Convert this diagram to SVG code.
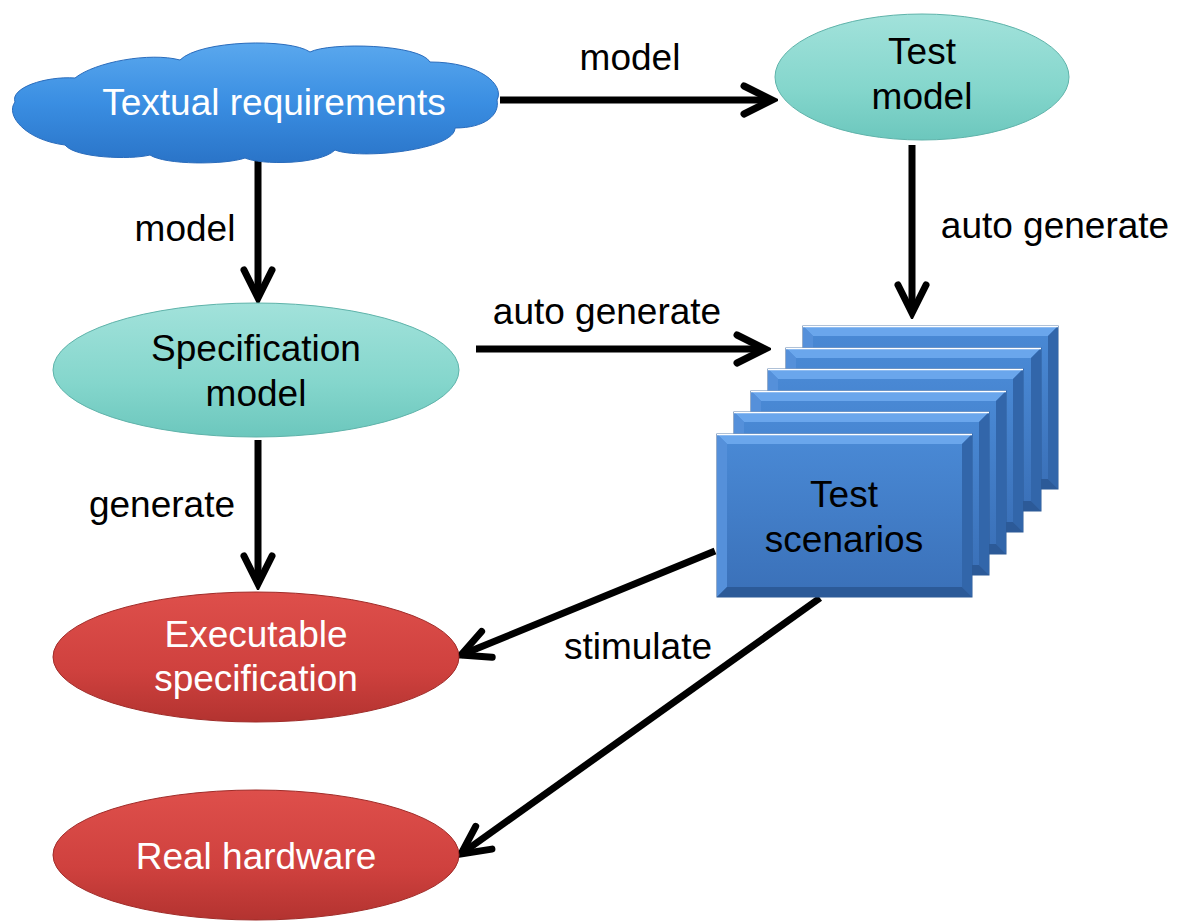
<svg xmlns="http://www.w3.org/2000/svg" width="1186" height="923" viewBox="0 0 1186 923">
<defs>
<style>
text{font-family:"Liberation Sans",Arial,sans-serif;font-size:37px;text-anchor:middle}
.lbl{fill:#000}
.wt{fill:#fff}
.bk{fill:#000}
.conn{stroke:#000;stroke-width:7;fill:none}
</style>
<linearGradient id="gCloud" x1="0" y1="0" x2="0" y2="1">
<stop offset="0" stop-color="#5aa8ee"/><stop offset="0.5" stop-color="#3a8ee2"/><stop offset="1" stop-color="#2a74c8"/>
</linearGradient>
<linearGradient id="gTeal" x1="0" y1="0" x2="0" y2="1">
<stop offset="0" stop-color="#a2e2db"/><stop offset="0.6" stop-color="#84d6cc"/><stop offset="1" stop-color="#6cc7bd"/>
</linearGradient>
<linearGradient id="gRed" x1="0" y1="0" x2="0" y2="1">
<stop offset="0" stop-color="#de4f4b"/><stop offset="0.6" stop-color="#cf413e"/><stop offset="1" stop-color="#b33330"/>
</linearGradient>
<linearGradient id="gBlue" x1="0" y1="0" x2="0" y2="1">
<stop offset="0" stop-color="#4a8ad6"/><stop offset="1" stop-color="#3a70b8"/>
</linearGradient>
<g id="card">
<rect x="0" y="0" width="255" height="163" fill="url(#gBlue)" stroke="#2c5a96" stroke-width="1"/>
<polygon points="0,0 255,0 245,10 10,10" fill="#6aa6ec"/>
<polygon points="0,0 10,10 10,153 0,163" fill="#5590da"/>
<polygon points="255,0 255,163 245,153 245,10" fill="#3266aa"/>
<polygon points="0,163 255,163 245,153 10,153" fill="#2c5a98"/>
<line x1="0" y1="0.5" x2="255" y2="0.5" stroke="#fff" stroke-width="1.5"/>
</g>
<marker id="arr" markerUnits="userSpaceOnUse" viewBox="0 0 40 40" markerWidth="40" markerHeight="40" refX="34" refY="20" orient="auto">
<path d="M6,6 L34,20 L6,34" fill="none" stroke="#000" stroke-width="7" stroke-linecap="round" stroke-linejoin="miter"/>
</marker>
</defs>
<rect width="1186" height="923" fill="#fff"/>

<g id="connectors">
<line class="conn" x1="500" y1="100" x2="772" y2="100" marker-end="url(#arr)"/>
<line class="conn" x1="258" y1="153" x2="258" y2="298" marker-end="url(#arr)"/>
<line class="conn" x1="912" y1="145" x2="912" y2="313" marker-end="url(#arr)"/>
<line class="conn" x1="476" y1="349" x2="765" y2="349" marker-end="url(#arr)"/>
<line class="conn" x1="258" y1="440" x2="258" y2="584" marker-end="url(#arr)"/>
<line class="conn" x1="715" y1="551" x2="461" y2="655" marker-end="url(#arr)"/>
<line class="conn" x1="820" y1="598" x2="461" y2="854" marker-end="url(#arr)"/>
<text class="lbl" x="630" y="70">model</text>
<text class="lbl" x="185" y="241">model</text>
<text class="lbl" x="1055" y="238">auto generate</text>
<text class="lbl" x="607" y="324">auto generate</text>
<text class="lbl" x="162" y="517">generate</text>
<text class="lbl" x="638" y="659">stimulate</text>
</g>

<g id="textual-requirements">
<path d="M15,102 C10,88 45,76 75,78 C95,62 150,52 180,60 C200,40 290,38 310,52 C330,42 420,44 430,62 C480,62 505,85 497,100 C500,115 485,128 455,128 C455,150 360,160 335,150 C320,165 260,165 245,158 C225,165 165,165 150,155 C130,160 75,158 65,145 C25,140 5,115 15,102 Z" fill="url(#gCloud)" stroke="#2a6cbc" stroke-width="1"/>
<text class="wt" x="274" y="115">Textual requirements</text>
</g>

<g id="test-model">
<ellipse cx="922" cy="77" rx="147" ry="63" fill="url(#gTeal)" stroke="#5fb3aa" stroke-width="1"/>
<text class="bk" x="922" y="64">Test</text>
<text class="bk" x="922" y="109">model</text>
</g>

<g id="specification-model">
<ellipse cx="256" cy="370" rx="203" ry="67" fill="url(#gTeal)" stroke="#5fb3aa" stroke-width="1"/>
<text class="bk" x="256" y="361">Specification</text>
<text class="bk" x="256" y="406">model</text>
</g>

<g id="test-scenarios">
<use href="#card" x="803" y="326"/>
<use href="#card" x="786" y="348"/>
<use href="#card" x="768" y="369"/>
<use href="#card" x="751" y="391"/>
<use href="#card" x="734" y="412"/>
<use href="#card" x="717" y="434"/>
<text class="bk" x="844" y="507">Test</text>
<text class="bk" x="844" y="552">scenarios</text>
</g>

<g id="executable-specification">
<ellipse cx="256" cy="657" rx="203" ry="65" fill="url(#gRed)" stroke="#a02c29" stroke-width="1"/>
<text class="wt" x="256" y="647">Executable</text>
<text class="wt" x="256" y="691">specification</text>
</g>

<g id="real-hardware">
<ellipse cx="256" cy="855" rx="203" ry="65" fill="url(#gRed)" stroke="#a02c29" stroke-width="1"/>
<text class="wt" x="256" y="869">Real hardware</text>
</g>
</svg>
